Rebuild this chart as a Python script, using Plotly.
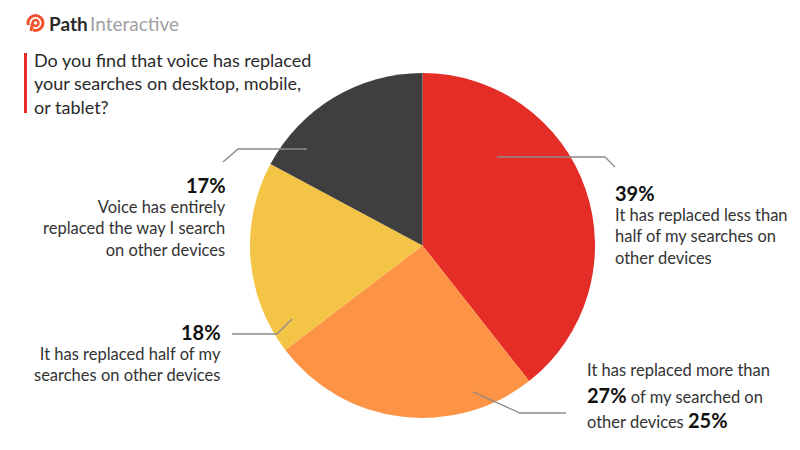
import plotly.graph_objects as go

# ---- data ----
categories = [
    "It has replaced less than half of my searches on other devices",
    "It has replaced more than 27% of my searched on other devices",
    "It has replaced half of my searches on other devices",
    "Voice has entirely replaced the way I search on other devices",
]
values = [39, 25, 18, 17]
colors = ["#E52D27", "#FD9445", "#F3C445", "#3F3F3F"]
pct_labels = [f"{v}%" for v in values]

W, H = 800, 450
FONT = "Lato"
TXT = "#333333"
LINE = "#8a8a8a"
LBL = 16.5


def px(x):
    return x / W


def py(y):
    return 1 - y / H


fig = go.Figure(
    go.Pie(
        labels=categories,
        values=values,
        marker=dict(colors=colors, line=dict(width=0)),
        sort=False,
        direction="clockwise",
        rotation=0,
        textinfo="none",
        hoverinfo="label+percent",
        showlegend=False,
        domain=dict(x=[px(250), px(595)], y=[py(418), py(73)]),
    )
)

ann = []
# logo
ann.append(dict(x=px(47), y=py(23), xref="paper", yref="paper", xanchor="left", yanchor="middle",
                text="<b>Path</b>", showarrow=False, font=dict(family=FONT, size=19, color="#2b2b2b")))
ann.append(dict(x=px(88), y=py(23), xref="paper", yref="paper", xanchor="left", yanchor="middle",
                text="Interactive", showarrow=False, font=dict(family=FONT, size=19, color="#a0a0a0")))
# title
ann.append(dict(x=px(32), y=py(84), xref="paper", yref="paper", xanchor="left", yanchor="middle", align="left",
                text="Do you find that voice has replaced<br>your searches on desktop, mobile,<br>or tablet?",
                showarrow=False, font=dict(family=FONT, size=18, color="#2a2a2a")))

# 17% block (dark slice)
ann.append(dict(x=px(228), y=py(185), xref="paper", yref="paper", xanchor="right", yanchor="middle",
                text=f"<b>{pct_labels[3]}</b>", showarrow=False, font=dict(family=FONT, size=20, color="#111111")))
ann.append(dict(x=px(228), y=py(228), xref="paper", yref="paper", xanchor="right", yanchor="middle", align="right",
                text="Voice has entirely<br>replaced the way I search<br>on other devices",
                showarrow=False, font=dict(family=FONT, size=LBL, color=TXT)))
# 18% block (yellow slice)
ann.append(dict(x=px(223), y=py(332), xref="paper", yref="paper", xanchor="right", yanchor="middle",
                text=f"<b>{pct_labels[2]}</b>", showarrow=False, font=dict(family=FONT, size=20, color="#111111")))
ann.append(dict(x=px(223), y=py(364), xref="paper", yref="paper", xanchor="right", yanchor="middle", align="right",
                text="It has replaced half of my<br>searches on other devices",
                showarrow=False, font=dict(family=FONT, size=LBL, color=TXT)))
# 39% block (red slice)
ann.append(dict(x=px(613), y=py(193), xref="paper", yref="paper", xanchor="left", yanchor="middle",
                text=f"<b>{pct_labels[0]}</b>", showarrow=False, font=dict(family=FONT, size=20, color="#111111")))
ann.append(dict(x=px(613), y=py(236), xref="paper", yref="paper", xanchor="left", yanchor="middle", align="left",
                text="It has replaced less than<br>half of my searches on<br>other devices",
                showarrow=False, font=dict(family=FONT, size=LBL, color=TXT)))
# 25% block (orange slice), one annotation per line
big = "<b><span style='font-size:20px;color:#111111'>%s</span></b>"
lines_25 = [
    "It has replaced more than",
    big % "27%" + " of my searched on",
    "other devices " + big % pct_labels[1],
]
for yy, t in zip([370, 395, 420], lines_25):
    ann.append(dict(x=px(585), y=py(yy), xref="paper", yref="paper", xanchor="left", yanchor="middle", align="left",
                    text=t, showarrow=False, font=dict(family=FONT, size=LBL, color=TXT)))

shapes = []
# logo icon
shapes.append(dict(type="circle", xref="paper", yref="paper", x0=px(28), x1=px(43), y0=py(15.5), y1=py(30.5),
                   line=dict(color="#F0532E", width=3)))
shapes.append(dict(type="circle", xref="paper", yref="paper", x0=px(32.5), x1=px(38.5), y0=py(20), y1=py(26),
                   line=dict(color="#F0532E", width=2.5)))
shapes.append(dict(type="rect", xref="paper", yref="paper", x0=px(26), x1=px(33), y0=py(32), y1=py(25),
                   fillcolor="white", line=dict(width=0)))
shapes.append(dict(type="line", xref="paper", yref="paper", x0=px(32.5), x1=px(31), y0=py(23), y1=py(31),
                   line=dict(color="#F0532E", width=3)))
# title bar
shapes.append(dict(type="rect", xref="paper", yref="paper", x0=px(24), x1=px(27), y0=py(113), y1=py(53),
                   fillcolor="#E52D27", line=dict(width=0)))


def leader(points):
    path = "M " + " L ".join(f"{px(x)},{py(y)}" for x, y in points)
    return dict(type="path", xref="paper", yref="paper", path=path, line=dict(color=LINE, width=1.3))


shapes.append(leader([(307, 149), (238, 149), (223, 162)]))
shapes.append(leader([(497, 157), (605, 157), (615, 167)]))
shapes.append(leader([(292, 319), (277, 334), (232, 334)]))
shapes.append(leader([(473, 392), (520, 413), (566, 413)]))

fig.update_layout(
    width=W, height=H,
    margin=dict(l=0, r=0, t=0, b=0),
    paper_bgcolor="white", plot_bgcolor="white",
    annotations=ann, shapes=shapes,
    font=dict(family=FONT),
)

fig.write_html("out.html", config={"displayModeBar": False},
               post_script="document.body.style.margin='0';document.body.style.overflow='hidden';")
